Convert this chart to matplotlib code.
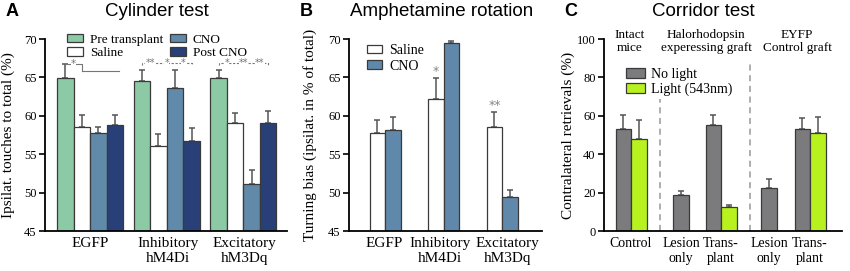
import matplotlib
matplotlib.use("Agg")
import matplotlib.pyplot as plt
from matplotlib.patches import Patch

# --- data -----------------------------------------------------------------
# A: cylinder test
cyl_groups = ["EGFP", "Inhibitory\nhM4Di", "Excitatory\nhM3Dq"]
cyl_series = ["Pre transplant", "Saline", "CNO", "Post CNO"]
cyl_mean = [[64.9, 58.6, 57.8, 58.8],
            [64.5, 56.1, 63.6, 56.7],
            [64.9, 59.0, 51.1, 59.1]]
cyl_err = [[1.9, 1.5, 0.8, 1.3],
           [1.4, 1.5, 2.3, 1.7],
           [1.1, 1.3, 1.9, 1.5]]
cyl_stars = [["*"], ["**", "*", "*"], ["*", "**", "**"]]

# B: amphetamine rotation
amph_groups = ["EGFP", "Inhibitory\nhM4Di", "Excitatory\nhM3Dq"]
amph_series = ["Saline", "CNO"]
amph_mean = [[57.8, 58.2], [62.2, 69.5], [58.6, 49.4]]
amph_err = [[1.7, 1.7], [2.7, 0.3], [1.9, 0.9]]
amph_stars = ["", "*", "**"]

# C: corridor test
cor_labels = ["Control", "Lesion\nonly", "Trans-\nplant", "Lesion\nonly", "Trans-\nplant"]
cor_nolight = [53.3, 18.5, 55.2, 22.5, 53.3]
cor_nolight_err = [7.0, 2.5, 5.1, 4.7, 5.4]
cor_light = [48.0, None, 12.3, None, 51.0]
cor_light_err = [10.0, None, 1.5, None, 8.3]
cor_headers = ["Intact\nmice", "Halorhodopsin\nexperessing graft", "EYFP\nControl graft"]

# --- style ---------------------------------------------------------------
serif = "Liberation Serif"
sans = "Liberation Sans"
edge = "#3a3a3a"
cyl_colors = ["#8ccaa6", "#ffffff", "#6089aa", "#283f78"]
amph_colors = ["#ffffff", "#5f88aa"]
c_gray = "#7b7b7d"
c_lime = "#b7f21e"

W, H = 850, 271
fig = plt.figure(figsize=(W / 100, H / 100), dpi=100)


def px_axes(x0, x1, ytop, ybot):
    return fig.add_axes([x0 / W, 1 - ybot / H, (x1 - x0) / W, (ybot - ytop) / H])


def style(ax, ylim, yticks, xsize):
    ax.set_ylim(*ylim)
    ax.set_yticks(yticks)
    for s in ["top", "right"]:
        ax.spines[s].set_visible(False)
    for s in ["left", "bottom"]:
        ax.spines[s].set_linewidth(1.3)
    ax.tick_params(axis="y", direction="out", length=4, width=1.2, labelsize=9, pad=2)
    ax.tick_params(axis="x", length=0, labelsize=xsize, pad=4)
    for lab in ax.get_yticklabels() + ax.get_xticklabels():
        lab.set_family(serif)


def ylabel(ax, text, xfrac):
    ax.set_ylabel(text, family=serif, fontsize=11, va="center")
    ax.yaxis.set_label_coords(xfrac, 0.5)


def bar_err(ax, x, h, e, color, w):
    ax.bar(x, h, width=w, color=color, edgecolor=edge, linewidth=0.9, zorder=2)
    ax.errorbar(x, h, yerr=[[0], [e]], fmt="none", ecolor="#555555",
                elinewidth=1.1, capsize=2, capthick=1.1, zorder=1)


# --- A ---------------------------------------------------------------------
axA = px_axes(45, 287, 39, 231)
wA = 0.216
for g in range(3):
    for s in range(4):
        x = g + (s - 1.5) * wA
        bar_err(axA, x, cyl_mean[g][s], cyl_err[g][s], cyl_colors[s], wA)
axA.set_xlim(-0.59, 2.57)
axA.set_xticks([0, 1.02, 2.02])
axA.set_xticklabels(cyl_groups)
style(axA, (45, 70), [45, 50, 55, 60, 65, 70], 11)
ylabel(axA, "Ipsilat. touches to total (%)", -0.153)

sig = "#777777"
# EGFP bracket
x0, x1 = -1.5 * wA, -0.5 * wA
axA.plot([x0, x0, x1, x1], [66.5, 66.8, 66.8, 65.8], color=sig, lw=0.8, clip_on=False)
axA.text((x0 + x1) / 2, 66.8, "*", ha="center", va="center", fontsize=7.5, color=sig,
         bbox=dict(fc="white", ec="none", pad=0.1))
axA.plot([x1, 1.5 * wA + 0.05], [65.8, 65.8], color=sig, lw=0.8)
for g in (1, 2):
    xs = [g + (s - 1.5) * wA for s in range(4)]
    axA.plot([xs[0], xs[0], xs[3], xs[3]], [66.6, 66.9, 66.9, 66.6], color=sig,
             lw=0.8, ls=(0, (2, 1.5)), clip_on=False)
    for k, st in enumerate(cyl_stars[g]):
        axA.text((xs[k] + xs[k + 1]) / 2, 66.85, st, ha="center", va="center",
                 fontsize=7, color=sig, bbox=dict(fc="white", ec="none", pad=0.1))

hA = [Patch(fc=c, ec=edge, lw=0.9) for c in cyl_colors]
fig.legend(hA, cyl_series, loc="upper left", bbox_to_anchor=(60 / W, 1 - 27 / H),
           ncol=2, frameon=False, prop={"family": serif, "size": 9.5},
           handlelength=1.25, handleheight=0.65, handletextpad=0.5,
           labelspacing=0.12, columnspacing=0.5, borderpad=0)

# --- B ---------------------------------------------------------------------
axB = px_axes(349, 542, 39, 231)
wB = 0.265
for g in range(3):
    for s in range(2):
        x = g + (s - 0.5) * wB
        bar_err(axB, x, amph_mean[g][s], amph_err[g][s], amph_colors[s], wB)
    if amph_stars[g]:
        axB.text(g - 0.5 * wB, amph_mean[g][0] + amph_err[g][0] + 0.9, amph_stars[g],
                 ha="center", va="center", fontsize=9, color="#888888")
axB.set_xlim(-0.615, 2.68)
axB.set_xticks([-0.02, 0.94, 2.09])
axB.set_xticklabels(amph_groups)
style(axB, (45, 70), [45, 50, 55, 60, 65, 70], 11)
ylabel(axB, "Turning bias (ipsilat. in % of total)", -0.202)
hB = [Patch(fc=c, ec=edge, lw=0.9) for c in amph_colors]
fig.legend(hB, amph_series, loc="upper left", bbox_to_anchor=(360 / W, 1 - 37 / H),
           frameon=False, prop={"family": serif, "size": 10},
           handlelength=1.1, handleheight=0.6, handletextpad=0.5,
           labelspacing=0.2, borderpad=0)

# --- C ---------------------------------------------------------------------
axC = px_axes(604, 842, 39, 231)
wC = 15.5
xc = [27, 77, 117, 165, 206]
for i in range(5):
    if cor_light[i] is None:
        bar_err(axC, xc[i], cor_nolight[i], cor_nolight_err[i], c_gray, wC)
    else:
        bar_err(axC, xc[i] - wC / 2, cor_nolight[i], cor_nolight_err[i], c_gray, wC)
        bar_err(axC, xc[i] + wC / 2, cor_light[i], cor_light_err[i], c_lime, wC)
axC.set_xlim(0, 238)
axC.set_xticks(xc)
axC.set_xticklabels(cor_labels)
style(axC, (0, 100), [0, 20, 40, 60, 80, 100], 10)
ylabel(axC, "Contralateral retrievals (%)", -0.151)
axC.plot([56, 56], [0, 69], color="#999999", lw=1.1, ls=(0, (4, 3)))
axC.plot([146, 146], [0, 89], color="#999999", lw=1.1, ls=(0, (4, 3)))
for xh, t in zip([26, 102, 193], cor_headers):
    axC.text(xh, 98.7, t, ha="center", va="center", family=serif, fontsize=9.5,
             linespacing=1.2, clip_on=False)
hC = [Patch(fc=c_gray, ec=edge, lw=0.9), Patch(fc=c_lime, ec=edge, lw=0.9)]
fig.legend(hC, ["No light", "Light (543nm)"], loc="upper left",
           bbox_to_anchor=(619 / W, 1 - 61 / H), frameon=False,
           prop={"family": serif, "size": 10}, handlelength=1.4, handleheight=0.7,
           handletextpad=0.4, labelspacing=0.12, borderpad=0)

# --- titles and panel letters ---------------------------------------------
for x, t in [(157, "Cylinder test"), (442, "Amphetamine rotation"), (703, "Corridor test")]:
    fig.text(x / W, 1 - 12 / H, t, ha="center", va="center", family=sans, fontsize=13.5)
for x, t in [(12, "A"), (306, "B"), (571, "C")]:
    fig.text(x / W, 1 - 12 / H, t, ha="center", va="center", family=sans,
             fontsize=13, fontweight="bold")

fig.savefig("out.png", dpi=100)
